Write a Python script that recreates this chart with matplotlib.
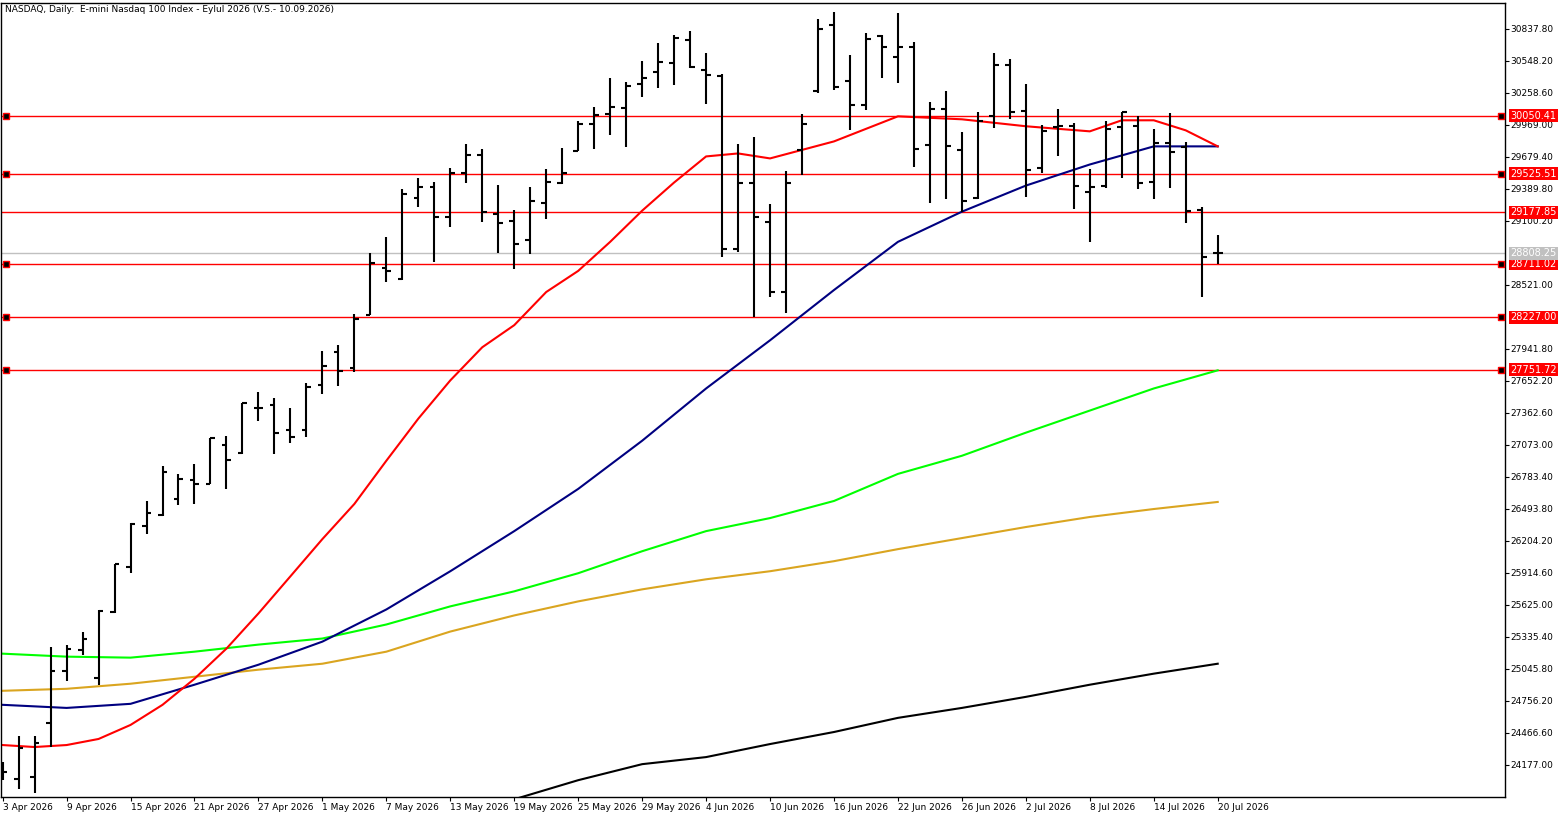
import matplotlib
matplotlib.use("Agg")
import matplotlib.pyplot as plt
import matplotlib.transforms as mtransforms

opens = [24157,24048,24066,24557,25030,25221,24966,25557,25966,26339,26439,26584,26757,26721,27075,27002,27411,27430,27211,27211,
         27611,27911,27766,28248,28675,28575,29311,29411,29138,29538,29693,29166,29102,28929,29266,29448,29729,29975,30066,30120,
         30338,30447,30529,30738,30466,30411,28848,29448,29093,28457,29738,30275,30875,30366,30147,30775,30584,30675,29784,30111,
         29738,29311,30047,30511,30093,29575,29947,29957,29366,29420,29947,29957,29457,29802,29766,29202,28808]
highs = [24203,24439,24439,25248,25266,25384,25575,25993,26366,26566,26884,26811,26902,27139,27157,27457,27548,27502,27411,27630,
         27920,27975,28257,28811,28957,29393,29493,29457,29575,29793,29747,29429,29202,29411,29566,29757,30002,30129,30393,30357,
         30547,30711,30784,30820,30620,30429,29793,29857,29257,29548,30066,30929,30993,30602,30802,30784,30984,30720,30175,30275,
         29902,30084,30620,30566,30338,29966,30111,29984,29566,30002,30084,30047,29929,30075,29811,29229,28975]
lows = [24039,23957,23921,24339,24939,25175,24903,25548,25912,26266,26430,26530,26539,26721,26675,26993,27293,26993,27093,27148,
        27530,27602,27730,28248,28548,28566,29229,28729,29048,29448,29093,28811,28666,28802,29120,29438,29729,29747,29875,29766,
        30220,30302,30329,30484,30157,28775,28820,28229,28411,28266,29520,30257,30284,29920,30102,30393,30347,29584,29266,29302,
        29184,29302,29938,30020,29320,29538,29684,29211,28911,29402,29493,29393,29302,29402,29084,28411,28711]
closes = [24112,24330,24375,25030,25230,25321,25566,25993,26357,26457,26830,26766,26721,27139,26939,27448,27411,27184,27148,27593,
          27784,27739,28211,28720,28648,29348,29411,29138,29538,29693,29184,29084,28893,29284,29457,29538,29975,30057,30129,30320,
          30393,30538,30756,30493,30420,28848,29448,29138,28457,29448,29975,30838,30311,30147,30747,30675,30675,29747,30111,29775,
          29284,30002,30511,30084,29557,29911,29957,29420,29411,29929,30084,29448,29802,29720,29193,28775,28808.25]

date_labels = ["3 Apr 2026","9 Apr 2026","15 Apr 2026","21 Apr 2026","27 Apr 2026","1 May 2026","7 May 2026",
               "13 May 2026","19 May 2026","25 May 2026","29 May 2026","4 Jun 2026","10 Jun 2026","16 Jun 2026",
               "22 Jun 2026","26 Jun 2026","2 Jul 2026","8 Jul 2026","14 Jul 2026","20 Jul 2026"]

red_idx = [0,2,4,6,8,10,12,14,16,18,20,22,24,26,28,30,32,34,36,38,40,42,44,46,48,52,56,60,64,68,70,72,74,76]
red_ma = [24357,24339,24357,24412,24539,24721,24957,25230,25548,25884,26221,26539,26930,27311,27657,27957,28157,28457,
          28648,28911,29193,29448,29684,29711,29666,29820,30047,30020,29957,29911,30011,30011,29920,29775]
ma_idx = [0,4,8,12,16,20,24,28,32,36,40,44,48,52,56,60,64,68,72,76]
navy_ma = [24721,24693,24730,24903,25084,25293,25584,25930,26293,26675,27111,27584,28020,28475,28911,29184,29420,29611,29775,29775]
green_ma = [25184,25157,25148,25202,25266,25321,25448,25612,25748,25912,26111,26293,26411,26566,26811,26975,27184,27384,27584,27748]
orange_ma = [24848,24866,24912,24975,25039,25093,25202,25384,25530,25657,25766,25857,25930,26021,26130,26230,26330,26421,26493,26557]
black_idx = [28,32,36,40,44,48,52,56,60,64,68,72,76]
black_ma = [23700,23866,24039,24184,24248,24366,24475,24603,24693,24793,24903,25003,25093]

level_lines = [30050.41, 29525.51, 29177.85, 28711.02, 28227.00, 27751.72]
level_marker = [True, True, False, True, True, True]
last_price = 28808.25
ytick_vals = [30837.80,30548.20,30258.60,29969.00,29679.40,29389.80,29100.20,28521.00,27941.80,27652.20,27362.60,
              27073.00,26783.40,26493.80,26204.20,25914.60,25625.00,25335.40,25045.80,24756.20,24466.60,24177.00]

fig = plt.figure(figsize=(15.63, 8.18), dpi=100)
ax = fig.add_axes([0.0006, 0.0257, 0.9622, 0.9707])
ax.set_xlim(-0.106, 93.96)
ax.set_ylim(23887, 31073)

lw = 1.5
for v in level_lines:
    ax.axhline(v, color="red", lw=1.0, zorder=1)
ax.axhline(last_price, color="#c0c0c0", lw=1.0, zorder=0.5)

ax.plot(black_idx, black_ma, color="black", lw=lw, zorder=2)
ax.plot(ma_idx, orange_ma, color="#daa520", lw=lw, zorder=2)
ax.plot(ma_idx, green_ma, color="#00ff00", lw=lw, zorder=2)
ax.plot(ma_idx, navy_ma, color="#000080", lw=lw, zorder=2)
ax.plot(red_idx, red_ma, color="red", lw=lw, zorder=2)

n = len(opens)
xs = list(range(n))
ax.vlines(xs, lows, highs, color="black", lw=lw, zorder=3)
ax.hlines(opens, [x - 0.3 for x in xs], xs, color="black", lw=lw, zorder=3)
ax.hlines(closes, xs, [x + 0.3 for x in xs], color="black", lw=lw, zorder=3)

for v, m in zip(level_lines, level_marker):
    if m:
        ax.plot([0.2, 93.75], [v, v], ls="none", marker="s", ms=4, mfc="black", mec="red", mew=1, zorder=4, clip_on=False)

for s in ["top", "bottom", "left", "right"]:
    ax.spines[s].set_linewidth(1)
ax.set_xticks(list(range(0, n, 4)))
ax.set_xticklabels(date_labels, fontsize=6.5, ha="left")
ax.tick_params(axis="x", length=3, pad=1)
ax.yaxis.tick_right()
ax.set_yticks(ytick_vals)
ax.set_yticklabels([f"{v:.2f}" for v in ytick_vals], fontsize=6.5)
ax.tick_params(axis="y", length=3, pad=1)

trans = mtransforms.blended_transform_factory(ax.transAxes, ax.transData)
for v in level_lines:
    ax.text(1.0035, v, f"{v:.2f}", transform=trans, fontsize=7, color="white", va="center", ha="left",
            bbox=dict(boxstyle="square,pad=0.15", fc="red", ec="none"), zorder=5, clip_on=False)
ax.text(1.0035, last_price, f"{last_price:.2f}", transform=trans, fontsize=7, color="white", va="center", ha="left",
        bbox=dict(boxstyle="square,pad=0.15", fc="#c0c0c0", ec="none"), zorder=5, clip_on=False)

ax.text(0.003, 0.997, "NASDAQ, Daily:  E-mini Nasdaq 100 Index - Eylul 2026 (V.S.- 10.09.2026)",
        transform=ax.transAxes, fontsize=6.5, va="top", ha="left")

fig.savefig("out.png", dpi=100)
